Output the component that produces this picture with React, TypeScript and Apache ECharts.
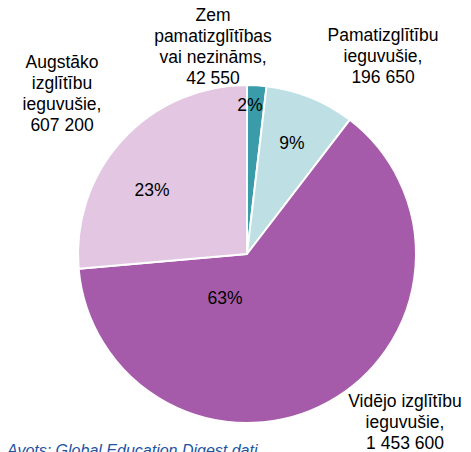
import React, { useEffect, useRef } from "react";
import * as echarts from "echarts";

const categories = [
  "Zem\npamatizglītības\nvai nezināms,",
  "Pamatizglītību\nieguvušie,",
  "Vidējo izglītību\nieguvušie,",
  "Augstāko\nizglītību\nieguvušie,",
];
const values = [42550, 196650, 1453600, 607200];
const percentLabels = ["2%", "9%", "63%", "23%"];
const colors = ["#3A9BA9", "#BEDFE4", "#A65BAA", "#E2C6E2"];
const sourceText = "Avots: Global Education Digest dati";

// label anchor positions (layout, pixels)
const pctPos: [number, number][] = [
  [250, 105],
  [292, 143],
  [225, 298],
  [152, 190],
];
const namePos: [number, number][] = [
  [213, 46],
  [383, 56],
  [405, 422],
  [62, 93],
];

const fmt = (v: number) => String(v).replace(/\B(?=(\d{3})+(?!\d))/g, " ");

export default function App() {
  const ref = useRef<HTMLDivElement>(null);
  useEffect(() => {
    if (!ref.current) return;
    const chart = echarts.init(ref.current, undefined, { renderer: "svg" });
    const data = categories.map((c, i) => ({
      name: c,
      value: values[i],
      itemStyle: { color: colors[i] },
    }));
    const font = { fontFamily: "Liberation Sans, Arial, sans-serif", fontSize: 17.5, color: "#000" };
    chart.setOption({
      animation: false,
      backgroundColor: "#fff",
      series: [
        {
          type: "pie",
          center: [247, 254],
          radius: [0, 169],
          startAngle: 90,
          clockwise: true,
          avoidLabelOverlap: false,
          data,
          itemStyle: { borderColor: "#fff", borderWidth: 2 },
          label: {
            show: true,
            position: "inside",
            ...font,
            formatter: (p: any) => percentLabels[p.dataIndex],
          },
          labelLayout: (p: any) => ({
            x: pctPos[p.dataIndex][0],
            y: pctPos[p.dataIndex][1],
            align: "center",
            verticalAlign: "middle",
          }),
          labelLine: { show: false },
          emphasis: { disabled: true },
        },
        {
          type: "pie",
          center: [247, 254],
          radius: [0, 169],
          startAngle: 90,
          clockwise: true,
          avoidLabelOverlap: false,
          silent: true,
          z: 3,
          data: categories.map((c, i) => ({ name: c, value: values[i] })),
          itemStyle: { color: "rgba(0,0,0,0)", borderWidth: 0 },
          label: {
            show: true,
            position: "outside",
            ...font,
            lineHeight: 21,
            align: "center",
            formatter: (p: any) => `${p.name}\n${fmt(p.value)}`,
          },
          labelLayout: (p: any) => ({
            x: namePos[p.dataIndex][0],
            y: namePos[p.dataIndex][1],
            align: "center",
            verticalAlign: "middle",
          }),
          labelLine: { show: false },
          emphasis: { disabled: true },
        },
      ],
      graphic: [
        {
          type: "text",
          left: 7,
          top: 442,
          style: {
            text: sourceText,
            fill: "#2152A3",
            font: "italic 16px 'Liberation Sans', Arial, sans-serif",
          },
        },
      ],
    });
    return () => chart.dispose();
  }, []);
  return (
    <div
      ref={ref}
      style={{ position: "fixed", left: 0, top: 0, width: 471, height: 452 }}
    />
  );
}
